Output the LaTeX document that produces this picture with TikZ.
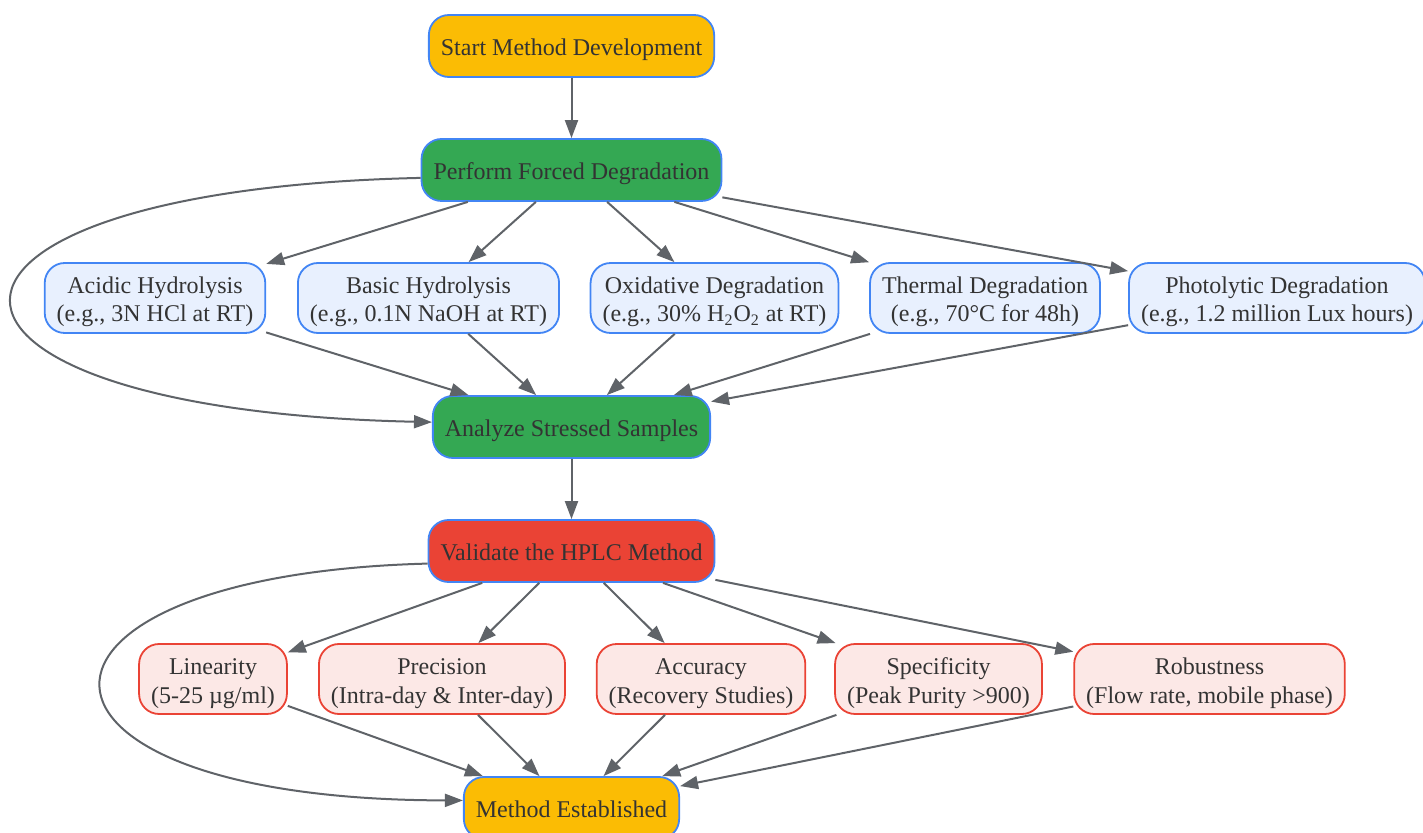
\documentclass[tikz,border=0pt]{standalone}
\usepackage{fontspec}
\setmainfont{Liberation Serif}
\usetikzlibrary{arrows.meta}

\definecolor{startyellow}{HTML}{FBBC04}
\definecolor{stepgreen}{HTML}{34A853}
\definecolor{validred}{HTML}{EA4335}
\definecolor{edgeblue}{HTML}{4285F4}
\definecolor{stressfill}{HTML}{E8F0FE}
\definecolor{testfill}{HTML}{FCE8E6}
\definecolor{arrowgray}{HTML}{5F6368}
\definecolor{textdark}{HTML}{333333}

\begin{document}
\begin{tikzpicture}[x = 0.5pt , y = -0.5pt ,
    box/.style = {draw = edgeblue , line width = 0.9pt , rounded corners = 10pt , text = textdark ,
        font = \fontsize{12}{14.4}\selectfont , inner xsep = 6pt , inner ysep = 2pt , align = center ,
        execute at begin node = \rule{0pt}{12.5pt} , execute at end node = \rule[-3pt]{0pt}{3pt}},
    mainbox/.style = {box , minimum height = 31pt},
    twoline/.style = {box , minimum height = 35pt , execute at begin node = \rule{0pt}{27pt}},
    stressbox/.style = {twoline , fill = stressfill},
    testbox/.style = {twoline , draw = validred , fill = testfill},
    flow/.style = {draw = arrowgray , line width = 1pt , -{Triangle[length = 9pt , width = 6.5pt]}}]
    \useasboundingbox (0,0) rectangle (1423,833);

    \node[mainbox , fill = startyellow] (start) at (571.5 , 46) {Start Method Development};
    \node[mainbox , fill = stepgreen] (degrade) at (571.5 , 170) {Perform Forced Degradation};

    % Stress conditions
    \node[stressbox] (acid) at (155 , 298) {Acidic Hydrolysis\\(e.g., 3N HCl at RT)};
    \node[stressbox] (base) at (428.5 , 298) {Basic Hydrolysis\\(e.g., 0.1N NaOH at RT)};
    \node[stressbox] (oxid) at (714.5 , 298) {Oxidative Degradation\\(e.g., 30\% H\textsubscript{2}O\textsubscript{2} at RT)};
    \node[stressbox] (therm) at (985 , 298) {Thermal Degradation\\(e.g., 70°C for 48h)};
    \node[stressbox] (photo) at (1277 , 298) {Photolytic Degradation\\(e.g., 1.2 million Lux hours)};

    \node[mainbox , fill = stepgreen] (analyze) at (571.5 , 427) {Analyze Stressed Samples};
    \node[mainbox , fill = validred] (validate) at (571.5 , 551) {Validate the HPLC Method};

    % Validation parameters
    \node[testbox] (linear) at (213 , 679) {Linearity\\(5-25 µg/ml)};
    \node[testbox] (precis) at (442 , 679) {Precision\\(Intra-day \& Inter-day)};
    \node[testbox] (accur) at (701 , 679) {Accuracy\\(Recovery Studies)};
    \node[testbox] (specif) at (938.5 , 679) {Specificity\\(Peak Purity >900)};
    \node[testbox] (robust) at (1209.5 , 679) {Robustness\\(Flow rate, mobile phase)};

    \node[mainbox , fill = startyellow] (done) at (571.5 , 808) {Method Established};

    \draw[flow] (start) -- (degrade);
    \foreach \s in {acid, base, oxid, therm, photo}{
        \draw[flow] (degrade) -- (\s);
        \draw[flow] (\s) -- (analyze);
    }
    \draw[flow] (degrade.183) .. controls (-126 , 190) and (-126 , 410) .. (analyze.178); % Direkt

    \draw[flow] (analyze) -- (validate);
    \foreach \t in {linear, precis, accur, specif, robust}{
        \draw[flow] (validate) -- (\t);
        \draw[flow] (\t) -- (done);
    }
    \draw[flow] (validate.185) .. controls (-13 , 575) and (-13 , 800) .. (done.176); % Direkt
\end{tikzpicture}
\end{document}
